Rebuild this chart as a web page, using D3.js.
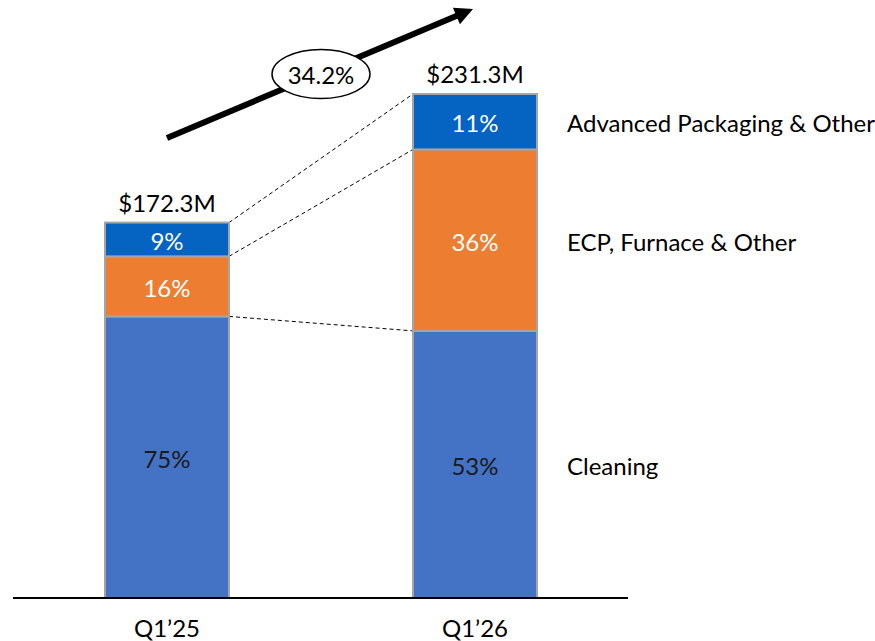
<!DOCTYPE html>
<html><head><meta charset="utf-8">
<script src="https://cdn.jsdelivr.net/npm/d3@7"></script>
<style>body{margin:0;background:#fff}svg{display:block}text{font-family:Lato,"Open Sans",sans-serif}</style>
</head><body>
<svg id="c" width="875" height="641"></svg>
<script>
const categories = ["Q1\u201925", "Q1\u201926"];
const totals = [172.3, 231.3];
const totalLabels = ["$172.3M", "$231.3M"];
const segmentNames = ["Cleaning", "ECP, Furnace & Other", "Advanced Packaging & Other"];
const cleaningPct = [75, 53];
const ecpPct = [16, 36];
const advPct = [9, 11];
const growthLabel = "34.2%";
const colors = ["#4472C4", "#ED7D31", "#0563C1"];
const textColors = ["#1a1a1a", "#ffffff", "#ffffff"];

const svg = d3.select("#c");
const baseY = 598;
const x = d3.scalePoint().domain(categories).range([167, 475]);
const y = d3.scaleLinear().domain([0, 231.3]).range([baseY, 94]);
const bw = 124;
const FS = 24;

const seriesPct = [cleaningPct, ecpPct, advPct];
const stacks = categories.map((c, i) => {
  let cum = 0;
  return seriesPct.map((s, k) => {
    const v0 = totals[i] * cum / 100;
    cum += s[i];
    const v1 = totals[i] * cum / 100;
    return {cat: c, k, pct: s[i], v0, v1};
  });
});

// dashed connectors
const conn = [
  [stacks[0][0].v1, stacks[1][0].v1],
  [stacks[0][1].v1, stacks[1][1].v1],
  [totals[0], totals[1]]
];
svg.selectAll(".conn").data(conn).join("line")
  .attr("x1", x(categories[0]) + bw/2).attr("y1", d => y(d[0]))
  .attr("x2", x(categories[1]) - bw/2).attr("y2", d => y(d[1]))
  .attr("stroke", "#000").attr("stroke-width", 1).attr("stroke-dasharray", "4,3");

// bars
stacks.forEach((st, i) => {
  const g = svg.append("g");
  g.selectAll("rect").data(st).join("rect")
    .attr("x", d => x(d.cat) - bw/2).attr("width", bw)
    .attr("y", d => y(d.v1)).attr("height", d => y(d.v0) - y(d.v1))
    .attr("fill", d => colors[d.k]).attr("stroke", "#a5a5a5").attr("stroke-width", 2);
  g.selectAll("text").data(st).join("text")
    .attr("x", d => x(d.cat)).attr("y", d => (y(d.v0) + y(d.v1)) / 2 + 2)
    .attr("dy", "0.35em").attr("text-anchor", "middle")
    .attr("font-size", FS).attr("fill", d => textColors[d.k])
    .text(d => d.pct + "%");
  svg.append("text").attr("x", x(categories[i])).attr("y", y(totals[i]) - 11)
    .attr("text-anchor", "middle").attr("font-size", FS).attr("fill", "#000")
    .text(totalLabels[i]);
});

// baseline axis
svg.append("line").attr("x1", 13).attr("x2", 628).attr("y1", baseY).attr("y2", baseY)
  .attr("stroke", "#000").attr("stroke-width", 2);
svg.selectAll(".cat").data(categories).join("text")
  .attr("x", d => x(d)).attr("y", 637).attr("text-anchor", "middle")
  .attr("font-size", FS).attr("fill", "#000").text(d => d);

// legend labels at bar2 segment centers
svg.selectAll(".leg").data(stacks[1]).join("text")
  .attr("x", 567).attr("y", d => (y(d.v0) + y(d.v1)) / 2 + 2).attr("dy", "0.35em")
  .attr("font-size", FS).attr("fill", "#000").text(d => segmentNames[d.k]);

// growth arrow
const start = [167, 138], tip = [473, 9];
const len = Math.hypot(tip[0]-start[0], tip[1]-start[1]);
const ux = (tip[0]-start[0])/len, uy = (tip[1]-start[1])/len;
const headLen = 18;
svg.append("line").attr("x1", start[0]).attr("y1", start[1])
  .attr("x2", tip[0] - ux*headLen*0.9).attr("y2", tip[1] - uy*headLen*0.9)
  .attr("stroke", "#000").attr("stroke-width", 6);
const ang = Math.atan2(uy, ux) * 180 / Math.PI;
svg.append("path").attr("d", `M0,0 L${-headLen},${-headLen/2} L${-headLen},${headLen/2} Z`)
  .attr("transform", `translate(${tip[0]},${tip[1]}) rotate(${ang})`).attr("fill", "#000");
svg.append("ellipse").attr("cx", 321).attr("cy", 74).attr("rx", 49).attr("ry", 24.5)
  .attr("fill", "#fff").attr("stroke", "#000").attr("stroke-width", 1.5);
svg.append("text").attr("x", 321).attr("y", 76).attr("dy", "0.35em").attr("text-anchor", "middle")
  .attr("font-size", FS).attr("fill", "#000").text(growthLabel);
</script>
</body></html>
